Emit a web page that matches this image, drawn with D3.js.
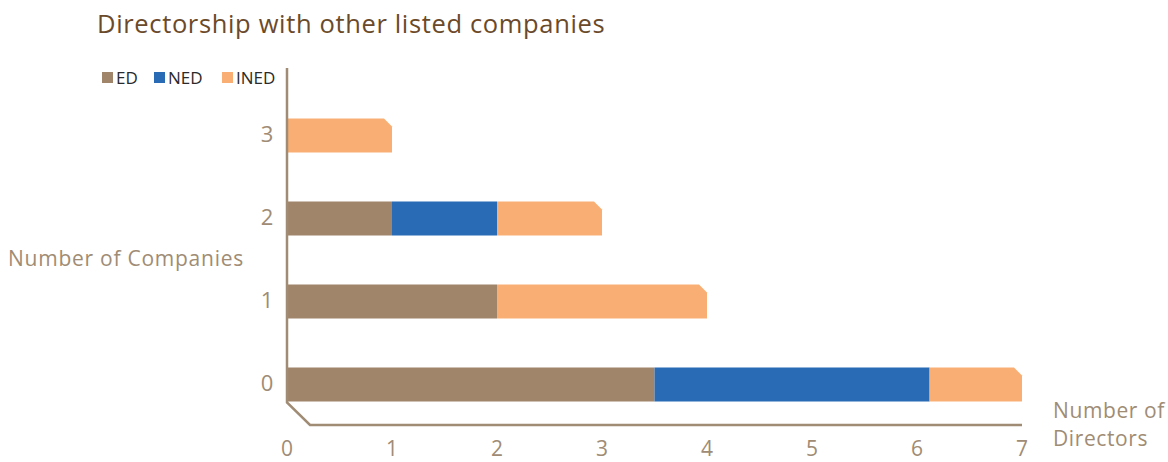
<!DOCTYPE html>
<html>
<head>
<meta charset="utf-8">
<title>Directorship with other listed companies</title>
<script src="https://cdn.jsdelivr.net/npm/d3@7"></script>
<style>
  body { margin: 0; background: #fff; font-family: 'Open Sans', 'Noto Sans', sans-serif; }
  svg { display: block; }
  .title { font-size: 25.5px; fill: #6b4a2a; letter-spacing: 0.65px; }
  .legend text { font-size: 17px; fill: #2a2a2a; }
  .tick-label { font-size: 22px; fill: #a08c74; }
  .x-tick { font-size: 21px; }
  .axis-title { font-size: 21px; fill: #a08c74; letter-spacing: 0.75px; }
  .frame { stroke: #a08c74; stroke-width: 2.5; fill: none; }
</style>
</head>
<body>
<svg width="1168" height="462"></svg>
<script>
// data
const companies = ['0', '1', '2', '3'];
const seriesNames = ['ED', 'NED', 'INED'];
const edValues = [3.5, 2, 1, 0];
const nedValues = [2.62, 0, 1, 0];
const inedValues = [0.88, 2, 1, 1];
const xTicks = [0, 1, 2, 3, 4, 5, 6, 7];
const colors = ['#a0856a', '#296bb5', '#f9af74'];

const rows = companies.map((c, i) => ({
  company: c, ED: edValues[i], NED: nedValues[i], INED: inedValues[i]
}));

const svg = d3.select('svg');

const x = d3.scaleLinear().domain([0, 7]).range([287, 1022]);
const y = d3.scaleBand()
  .domain(companies.slice().reverse())
  .range([94, 426])
  .paddingInner(0.59)
  .paddingOuter(0.295);

const stacked = d3.stack().keys(seriesNames)(rows);

// last non-empty segment of each row gets the cut corner
const lastKey = {};
rows.forEach(r => {
  seriesNames.forEach(k => { if (r[k] > 0) lastKey[r.company] = k; });
});

const cut = 8;
function segPath(d, key) {
  const x0 = x(d[0]), x1 = x(d[1]);
  const y0 = y(d.data.company), h = y.bandwidth();
  if (lastKey[d.data.company] === key) {
    return `M${x0},${y0}H${x1 - cut}L${x1},${y0 + cut}V${y0 + h}H${x0}Z`;
  }
  return `M${x0},${y0}H${x1}V${y0 + h}H${x0}Z`;
}

svg.append('g').selectAll('g')
  .data(stacked)
  .join('g')
  .attr('fill', (s, i) => colors[i])
  .each(function (s) {
    d3.select(this).selectAll('path')
      .data(s.filter(d => d[1] - d[0] > 0))
      .join('path')
      .attr('d', d => segPath(d, s.key));
  });

// frame: vertical wall line, floor diagonal and front edge
const floorY = y.range()[1] - 1;
svg.append('path')
  .attr('class', 'frame')
  .attr('d', `M${x(0)},68V${y('0') + y.bandwidth() + 1}L${x(0) + 23},${floorY}H${x(7)}`);

// y tick labels
svg.append('g').selectAll('text')
  .data(companies)
  .join('text')
  .attr('class', 'tick-label')
  .attr('x', 267)
  .attr('y', d => y(d) + y.bandwidth() / 2 + 6)
  .attr('text-anchor', 'middle')
  .text(d => d);

// x tick labels
svg.append('g').selectAll('text')
  .data(xTicks)
  .join('text')
  .attr('class', 'tick-label x-tick')
  .attr('x', d => x(d))
  .attr('y', 456)
  .attr('text-anchor', 'middle')
  .text(d => d);

svg.append('text')
  .attr('class', 'title')
  .attr('x', 97)
  .attr('y', 33)
  .text('Directorship with other listed companies');

svg.append('text')
  .attr('class', 'axis-title')
  .attr('x', 8)
  .attr('y', 266)
  .text('Number of Companies');

const dirLabel = svg.append('text')
  .attr('class', 'axis-title')
  .attr('x', 1053)
  .attr('y', 418)
  .style('letter-spacing', '0.6px');
dirLabel.append('tspan').text('Number of');
dirLabel.append('tspan').attr('x', 1053).attr('dy', 28).text('Directors');

// legend
const legendX = [102, 154, 222];
const legend = svg.append('g').attr('class', 'legend')
  .selectAll('g')
  .data(seriesNames)
  .join('g')
  .attr('transform', (d, i) => `translate(${legendX[i]},72)`);
legend.append('rect')
  .attr('width', 11).attr('height', 11)
  .attr('fill', (d, i) => colors[i]);
legend.append('text')
  .attr('x', 14).attr('y', 12)
  .text(d => d);
</script>
</body>
</html>
